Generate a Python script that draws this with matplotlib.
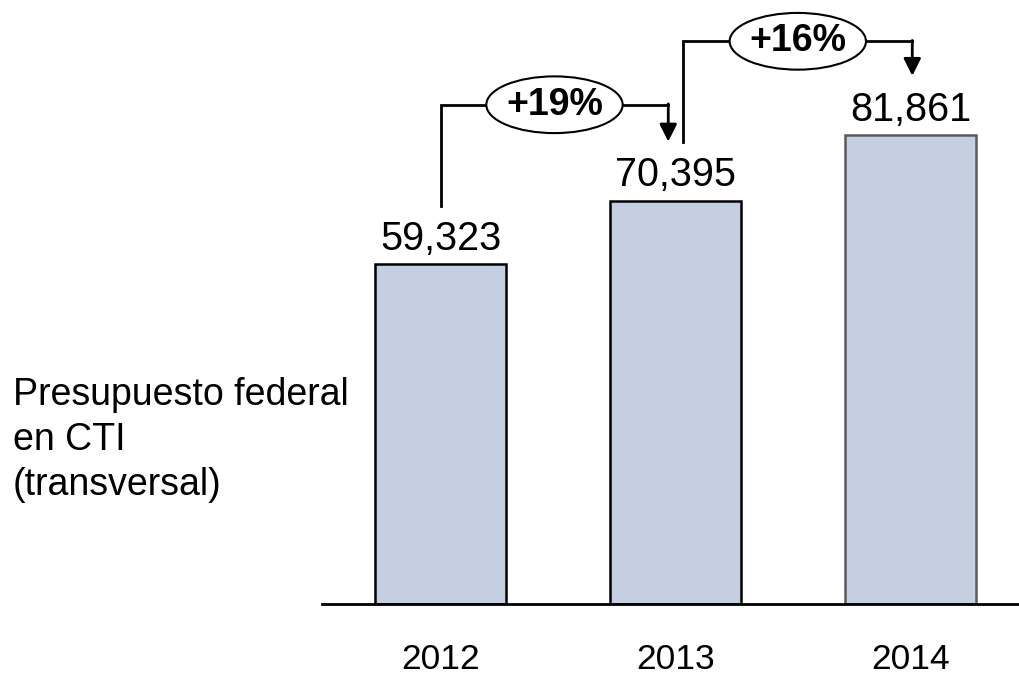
import matplotlib.pyplot as plt
from matplotlib.patches import Ellipse

plt.rcParams['font.family'] = ['Liberation Sans', 'DejaVu Sans']

# Presupuesto federal en CTI (millones de pesos)
anios = ['2012', '2013', '2014']
presupuesto = [59323, 70395, 81861]
bordes = ['black', 'black', '#5a5a5a']

fig = plt.figure(figsize=(10.19, 6.78), dpi=100)
ax = fig.add_axes([322 / 1019, 74 / 678, 697 / 1019, 604 / 678])

x = list(range(len(anios)))
ax.bar(x, presupuesto, width=0.557, color='#c4cfe1', edgecolor=bordes,
       linewidth=1.8, zorder=2)

ax.set_xlim(-0.505, 2.46)
ax.set_ylim(0, 105400)

for i, v in enumerate(presupuesto):
    ax.text(i, v + 1100, f'{v:,}', ha='center', va='bottom', fontsize=28.5)

# flechas de crecimiento entre anios consecutivos
for i in range(len(presupuesto) - 1):
    x0 = i + (0.032 if i > 0 else 0.0)
    x1 = i + 1 - 0.032 if i == 0 else i + 1 + 0.006
    base = presupuesto[i] + 10200
    nivel = presupuesto[i] + 27800
    punta = presupuesto[i + 1] + 10300
    ax.plot([x0, x0, x1], [base, nivel, nivel], color='black', lw=2,
            solid_joinstyle='miter', zorder=3)
    ax.annotate('', xy=(x1, punta), xytext=(x1, nivel + 150),
                arrowprops=dict(arrowstyle='-|>', color='black', lw=2,
                                mutation_scale=26, shrinkA=0, shrinkB=0),
                zorder=3)
    xm = (x0 + x1) / 2
    ax.add_patch(Ellipse((xm, nivel), 0.58, 9900, facecolor='white',
                         edgecolor='black', lw=1.5, zorder=4))
    crec = (presupuesto[i + 1] / presupuesto[i] - 1) * 100
    ax.text(xm, nivel, f'+{crec:.0f}%', ha='center', va='center',
            fontsize=27, fontweight='bold', zorder=5)

for s in ['top', 'right', 'left']:
    ax.spines[s].set_visible(False)
ax.spines['bottom'].set_linewidth(2)
ax.set_yticks([])
ax.set_xticks(x)
ax.set_xticklabels(anios, fontsize=25.5)
ax.tick_params(axis='x', length=0, pad=28)

fig.text(13 / 1019, 1 - 440 / 678,
         'Presupuesto federal\nen CTI\n(transversal)',
         ha='left', va='center', fontsize=27, linespacing=1.33)

fig.savefig('out.png', dpi=100)
